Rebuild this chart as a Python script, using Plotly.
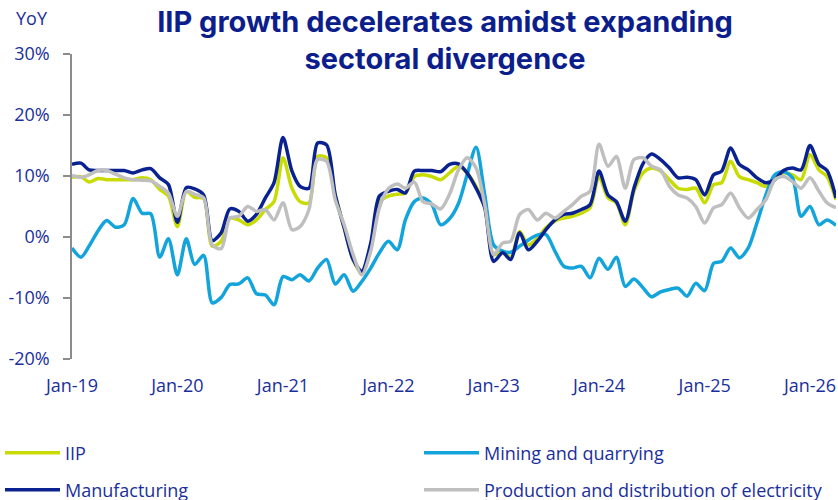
import pandas as pd
import plotly.graph_objects as go

months = pd.date_range("2019-01-01", periods=88, freq="MS")

iip = [9.8, 9.9, 9.0, 9.6, 9.4, 9.4, 9.4, 9.4, 9.7, 9.4, 7.8, 6.7,
       1.7, 7.5, 6.5, 6.3, -1.5, -0.7, 3.1, 2.8, 2.0, 2.8, 4.5, 5.8,
       13.0, 8.0, 5.8, 5.6, 13.2, 13.0, 6.9, 1.5, -3.7, -5.9, -1.8, 5.8,
       6.7, 7.0, 7.2, 9.9, 10.2, 9.9, 9.4, 10.5, 11.6, 10.5, 8.3, 5.0,
       -2.9, -2.3, -3.4, 0.9, -1.3, -0.2, 1.5, 2.6, 3.1, 3.4, 3.9, 4.8,
       9.9, 6.4, 5.6, 2.0, 7.5, 10.5, 11.3, 10.8, 9.4, 8.0, 7.8, 8.0,
       5.6, 8.6, 8.9, 12.4, 9.9, 9.4, 8.9, 8.3, 9.4, 10.5, 10.2, 9.4,
       13.5, 11.0, 9.9, 6.1]

mining = [-1.8, -3.3, -1.5, 1.0, 2.7, 1.6, 2.0, 6.3, 3.9, 3.8, -3.3, -0.3,
          -6.2, -0.3, -4.5, -3.0, -10.8, -9.9, -7.8, -7.7, -6.7, -9.3, -9.5, -11.1,
          -6.5, -7.0, -6.2, -7.2, -5.1, -3.7, -7.7, -6.2, -8.9, -7.3, -5.1, -2.6,
          -0.7, -2.1, 2.8, 5.8, 6.4, 5.3, 2.0, 3.0, 5.5, 10.2, 14.7, 6.9,
          -1.3, -2.3, -2.5, -1.5, -0.5, 0.3, 0.4, -2.3, -4.8, -5.1, -4.8, -6.7,
          -3.5, -5.3, -3.3, -8.1, -6.9, -8.3, -9.8, -9.0, -8.6, -8.4, -9.7, -7.6,
          -8.8, -4.3, -4.0, -1.8, -3.4, -1.8, 2.3, 6.9, 10.2, 10.7, 9.7, 3.4,
          5.0, 2.0, 2.8, 1.9]

manufacturing = [11.9, 12.1, 11.0, 10.9, 10.9, 10.9, 10.9, 10.5, 11.0, 11.2, 9.7, 8.6,
                 2.4, 8.1, 7.9, 6.9, -0.6, 0.7, 4.6, 4.2, 2.6, 3.7, 6.4, 8.9,
                 16.3, 10.8, 8.3, 8.0, 15.4, 15.1, 6.9, 1.5, -3.7, -5.6, -1.0, 6.7,
                 7.5, 7.8, 7.2, 10.8, 10.9, 10.9, 10.7, 11.9, 12.0, 10.5, 8.0, 4.8,
                 -4.0, -2.6, -3.7, 0.7, -2.1, -0.7, 1.2, 2.8, 3.7, 3.9, 4.5, 5.3,
                 10.8, 6.9, 5.8, 2.6, 8.0, 12.0, 13.6, 12.7, 11.3, 9.7, 9.8, 9.4,
                 6.9, 10.2, 10.8, 14.6, 11.9, 11.0, 9.7, 8.9, 9.4, 10.9, 11.3, 11.0,
                 15.0, 11.9, 10.9, 6.4]

electricity = [10.1, 9.8, 10.2, 10.9, 10.9, 10.3, 9.7, 9.4, 9.3, 9.2, 8.3, 7.2,
               3.4, 7.5, 7.0, 6.4, -1.3, -1.9, 3.1, 3.4, 5.0, 4.2, 4.5, 2.8,
               5.6, 1.2, 1.7, 4.5, 12.7, 12.4, 6.1, 2.0, -2.9, -6.2, -2.3, 4.8,
               7.9, 8.7, 8.0, 9.0, 5.8, 5.4, 4.6, 7.0, 11.0, 13.0, 11.3, 5.3,
               -2.9, -1.0, -0.7, 3.7, 4.5, 2.8, 3.9, 3.1, 4.2, 5.3, 6.7, 7.5,
               15.2, 11.6, 13.2, 8.0, 12.7, 13.0, 11.6, 11.0, 8.3, 6.9, 6.4, 5.0,
               2.3, 4.8, 5.3, 7.2, 4.8, 3.1, 4.5, 6.1, 9.4, 9.9, 9.1, 8.0,
               9.7, 7.5, 5.6, 4.8]

y_tickvals = [-20, -10, 0, 10, 20, 30]
y_ticktext = ["-20%", "-10%", "0%", "10%", "20%", "30%"]

NAVY_TXT = "#1B2F9C"
TITLE_C = "#0B1E8C"
AXIS_C = "#8C8C8C"
FONT = "Open Sans"

# plot area in pixels: left 72, right 836, top 54, bottom 359
PL, PW, PB, PH = 72, 764, 359, 305

series = [
    ("IIP", iip, "#C8DC04", "legend", 0, 453),
    ("Mining and quarrying", mining, "#12A4DA", "legend2", 419, 453),
    ("Manufacturing", manufacturing, "#0A2290", "legend3", 0, 490),
    ("Production and distribution of electricity", electricity, "#BFBFBF", "legend4", 419, 490),
]

fig = go.Figure()
for name, vals, col, lg, _, _ in series:
    fig.add_trace(go.Scatter(
        x=months, y=vals, name=name, mode="lines",
        line=dict(color=col, width=3.5, shape="spline", smoothing=0.8),
        legend=lg, hoverinfo="skip",
    ))

x_range = ["2019-01-01", "2026-04-01"]

legends = {}
for name, vals, col, lg, lx, ly in series:
    legends[lg] = dict(
        orientation="h", xanchor="left", yanchor="middle",
        x=(lx - PL) / PW, y=(PB - ly) / PH,
        font=dict(family=FONT, size=18, color=NAVY_TXT),
        bgcolor="rgba(0,0,0,0)", itemwidth=55,
        itemclick=False, itemdoubleclick=False,
    )

fig.update_layout(
    width=838, height=500,
    margin=dict(l=PL, r=838 - PL - PW, t=PB - PH, b=500 - PB, autoexpand=False),
    paper_bgcolor="white", plot_bgcolor="white",
    showlegend=True,
    title=dict(
        text="IIP growth decelerates amidst expanding<br>sectoral divergence",
        x=445 / 838, xanchor="center", y=0.937, yanchor="top",
        font=dict(family="Inter", size=29, color=TITLE_C, weight="bold"),
    ),
    xaxis=dict(
        type="date", range=x_range, dtick="M12", tick0="2019-01-01",
        tickformat="%b-%y", showline=False, showgrid=False, zeroline=False,
        ticks="", ticklabelstandoff=14,
        tickfont=dict(family=FONT, size=18, color=NAVY_TXT),
    ),
    xaxis2=dict(
        type="date", range=x_range, dtick="M12", tick0="2019-01-01",
        overlaying="x", anchor="free", position=0.4,
        showline=True, linecolor=AXIS_C, linewidth=1.5,
        ticks="outside", ticklen=7, tickcolor=AXIS_C, tickwidth=1.5,
        showticklabels=False, showgrid=False, zeroline=False,
    ),
    yaxis=dict(
        range=[-20, 30], tickvals=y_tickvals, ticktext=y_ticktext,
        showline=True, linecolor=AXIS_C, linewidth=1.5,
        ticks="outside", ticklen=7, tickcolor=AXIS_C, tickwidth=1.5,
        showgrid=False, zeroline=False, ticklabelstandoff=10,
        tickfont=dict(family=FONT, size=18, color=NAVY_TXT),
    ),
    annotations=[dict(
        text="YoY", xref="paper", yref="paper",
        x=(14 - PL) / PW, y=(PB - 18) / PH, xanchor="left", yanchor="middle",
        showarrow=False, font=dict(family=FONT, size=18, color=NAVY_TXT),
    )],
    **legends,
)

fig.write_html(
    "out.html",
    config={"displayModeBar": False},
    post_script="document.body.style.margin='0';document.body.style.padding='0';",
)
